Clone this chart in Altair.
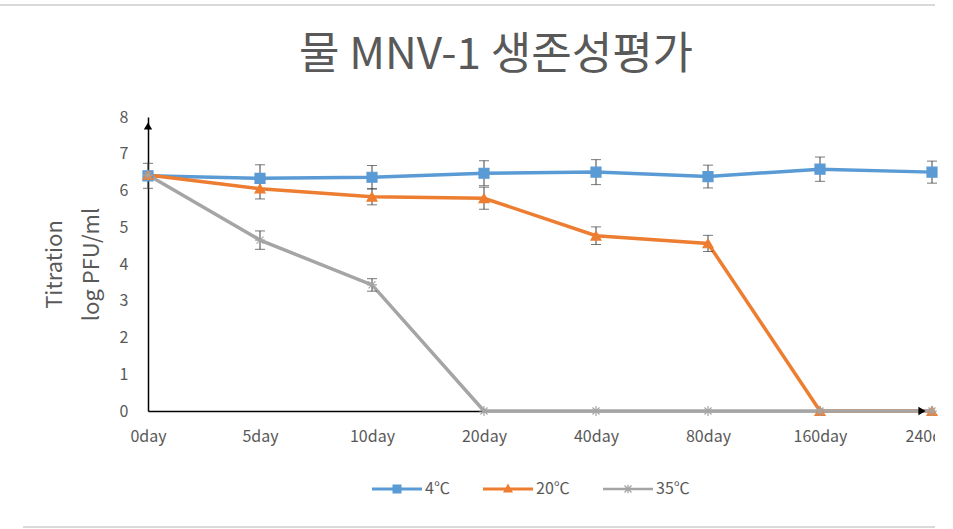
import altair as alt
import pandas as pd

days = ["0day", "5day", "10day", "20day", "40day", "80day", "160day", "240day"]
series = ["4℃", "20℃", "35℃"]
t4 = [6.40, 6.33, 6.36, 6.47, 6.50, 6.38, 6.58, 6.50]
e4 = [0.34, 0.37, 0.32, 0.34, 0.34, 0.31, 0.33, 0.30]
t20 = [6.42, 6.05, 5.83, 5.79, 4.77, 4.56, 0.0, 0.0]
e20 = [0.0, 0.28, 0.22, 0.30, 0.24, 0.22, 0.0, 0.0]
t35 = [6.42, 4.65, 3.43, 0.0, 0.0, 0.0, 0.0, 0.0]
e35 = [0.0, 0.25, 0.17, 0.0, 0.0, 0.0, 0.0, 0.0]
colors = ["#5B9BD5", "#ED7D31", "#A5A5A5"]
title_text = "물 MNV-1 생존성평가"
y_ticks = [0, 1, 2, 3, 4, 5, 6, 7, 8]

rows = []
for name, vals, errs in zip(series, [t4, t20, t35], [e4, e20, e35]):
    for i, (d, v, e) in enumerate(zip(days, vals, errs)):
        rows.append({"day": d, "series": name, "v": v, "lo": v - e, "hi": v + e, "err": e, "order": i})
df = pd.DataFrame(rows)

FONT = "Noto Sans CJK KR"
GREY_TXT = "#595959"

asterisk = "M-1,0L1,0M0,-1L0,1M-0.7,-0.7L0.7,0.7M-0.7,0.7L0.7,-0.7"
leg_square = "M-1,-0.06H1V0.06H-1Z M-0.18,-0.18H0.18V0.18H-0.18Z"
leg_tri = "M-1,-0.06H1V0.06H-1Z M0,-0.22L0.2,0.14L-0.2,0.14Z"
leg_ast = ("M-1,-0.05H1V0.05H-1Z M-0.025,-0.17H0.025V0.17H-0.025Z "
           "M-0.122,-0.158L0.158,0.122L0.122,0.158L-0.158,-0.122Z "
           "M0.122,-0.158L0.158,-0.122L-0.122,0.158L-0.158,0.122Z")

x_axis = alt.Axis(title=None, ticks=False, labelFont=FONT, labelFontSize=16,
                  labelColor=GREY_TXT, labelPadding=17, domainColor="black",
                  domainWidth=1.5, grid=False, labelAngle=0, zindex=0)
y_axis = alt.Axis(title=["Titration", "log PFU/ml"], values=y_ticks, ticks=False,
                  labelOverlap=False, labelFont=FONT, labelFontSize=16, labelColor=GREY_TXT,
                  labelPadding=20, domainColor="black", domainWidth=1.5, grid=False,
                  titleFont=FONT, titleFontSize=22, titleFontWeight="normal",
                  titleColor=GREY_TXT, titleLineHeight=37, titlePadding=16, zindex=0)
x_scale = alt.Scale(domain=days, type="point", padding=0)
y_scale = alt.Scale(domain=[0, 8], nice=False, zero=True)


def X():
    return alt.X("day:N", sort=days, scale=x_scale, axis=x_axis)


def Y(field):
    return alt.Y(field + ":Q", scale=y_scale, axis=y_axis)


color_main = alt.Color("series:N", scale=alt.Scale(domain=series, range=colors), legend=None)
base = alt.Chart(df)

lines = base.mark_line(strokeWidth=3.5).encode(
    x=X(), y=Y("v"), color=color_main, order="order:Q", detail="series:N")

err = base.transform_filter("datum.err > 0")
err_rule = err.mark_rule(color="#404040", strokeWidth=1).encode(x=X(), y=Y("lo"), y2="hi:Q")
err_lo = err.mark_tick(color="#404040", thickness=1, size=10).encode(x=X(), y=Y("lo"))
err_hi = err.mark_tick(color="#404040", thickness=1, size=10).encode(x=X(), y=Y("hi"))

points = base.mark_point(filled=False, size=100, strokeWidth=1.2, opacity=1).encode(
    x=X(), y=Y("v"),
    color=color_main,
    fill=alt.Fill("series:N", scale=alt.Scale(domain=series, range=colors[:2] + ["transparent"]), legend=None),
    shape=alt.Shape("series:N", scale=alt.Scale(domain=series, range=["square", "triangle-up", asterisk]), legend=None),
)

leg_params = dict(title=None, orient="none", direction="horizontal", legendX=224, legendY=347,
                  symbolSize=2500, symbolStrokeWidth=0, labelFont=FONT, labelFontSize=16,
                  labelColor=GREY_TXT, labelOffset=3, columnPadding=33, symbolOpacity=1)
legend_layer = base.transform_filter("datum.v > 100").mark_point(filled=True, size=2500).encode(
    x=X(), y=Y("v"),
    color=alt.Color("series:N", scale=alt.Scale(domain=series, range=colors), legend=alt.Legend(**leg_params)),
    shape=alt.Shape("series:N", scale=alt.Scale(domain=series, range=[leg_square, leg_tri, leg_ast]),
                    legend=alt.Legend(**leg_params)),
)

arrow_df = pd.DataFrame({"day": [days[0], days[-1]], "v": [y_ticks[-1], y_ticks[0]]})
arrow_up = alt.Chart(arrow_df.iloc[[0]]).mark_point(shape="triangle-up", filled=True, color="black",
                                                     size=70, opacity=1, yOffset=9).encode(x=X(), y=Y("v"))
arrow_right = alt.Chart(arrow_df.iloc[[1]]).mark_point(shape="triangle-right", filled=True, color="black",
                                                        size=70, opacity=1, xOffset=-10).encode(x=X(), y=Y("v"))

# decorative chart frame (top / bottom border) and right-edge crop mask
frame_top = alt.Chart(arrow_df.iloc[[0]]).mark_rule(color="#D9D9D9", strokeWidth=2).encode(
    x=alt.value(-148), x2=alt.value(787), y=alt.value(-112))
frame_bot = alt.Chart(arrow_df.iloc[[0]]).mark_rule(color="#D9D9D9", strokeWidth=2).encode(
    x=alt.value(-125), x2=alt.value(787), y=alt.value(410))
mask = alt.Chart(arrow_df.iloc[[0]]).mark_rect(color="white").encode(
    x=alt.value(787), x2=alt.value(806), y=alt.value(303), y2=alt.value(340))

chart = alt.layer(
    frame_top, frame_bot, lines, err_rule, err_lo, err_hi, points, arrow_up, arrow_right, mask, legend_layer
).resolve_scale(color="independent", shape="independent", fill="independent").properties(
    width=784, height=294,
    background="white",
    autosize=alt.AutoSizeParams(type="none"),
    padding={"left": 148, "top": 117, "right": 21, "bottom": 118},
    title=alt.TitleParams(title_text, font=FONT, fontSize=44, fontWeight="normal", color=GREY_TXT,
                          anchor="middle", frame="group", dx=-44, offset=-74),
).configure_view(stroke=None, strokeWidth=0)

chart.save("out.html", embed_options={"renderer": "svg", "actions": False})
